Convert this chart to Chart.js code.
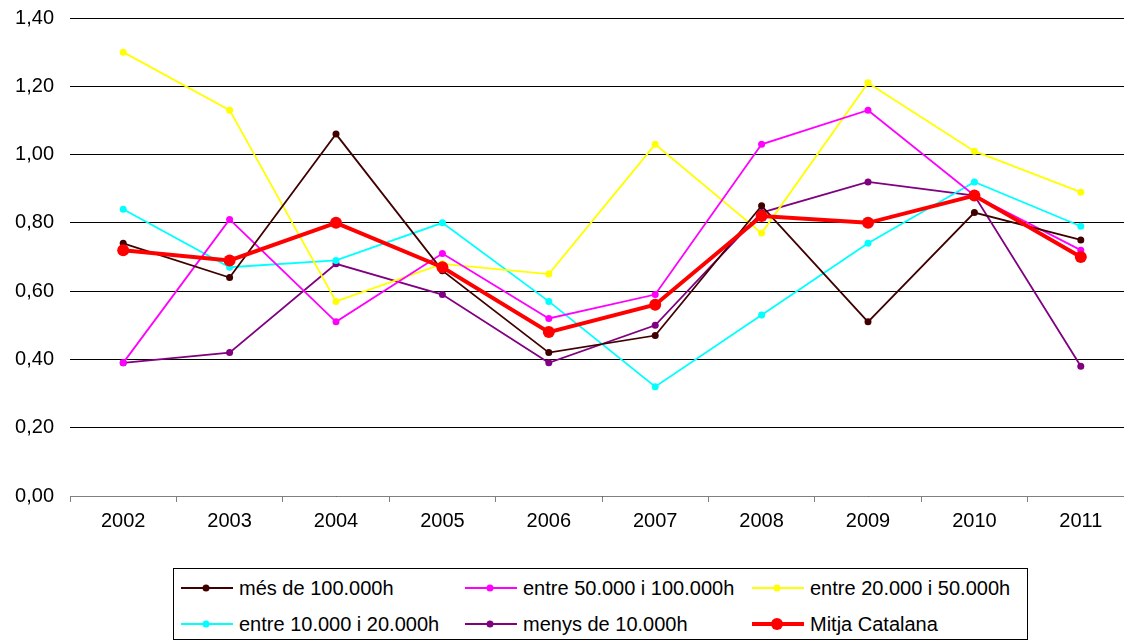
<!DOCTYPE html>
<html>
<head>
<meta charset="utf-8">
<script src="https://cdn.jsdelivr.net/npm/chart.js@4.4.1/dist/chart.umd.min.js"></script>
<style>
  html, body { margin: 0; padding: 0; background: #fff; overflow: hidden; }
  #wrap { position: relative; width: 1124px; height: 641px; overflow: hidden; }
  #c { position: absolute; left: 0; top: 0; }
  #legend { position: absolute; left: 173px; top: 568px; width: 855px; height: 72px;
            border: 1px solid #000; box-sizing: border-box; background: #fff;
            font-family: "Liberation Sans", Arial, sans-serif; font-size: 20px; color: #000; }
  .item { position: absolute; height: 24px; display: flex; align-items: center; white-space: nowrap; }
  .item svg { margin-right: 6px; }
</style>
</head>
<body>
<div id="wrap">
  <canvas id="c" width="1140" height="641"></canvas>
  <div id="legend"></div>
</div>
<script>
const categories = ['2002','2003','2004','2005','2006','2007','2008','2009','2010','2011'];
const yTickLabels = ['0,00','0,20','0,40','0,60','0,80','1,00','1,20','1,40'];

const seriesNames = ['més de 100.000h','entre 50.000 i 100.000h','entre 20.000 i 50.000h',
                     'entre 10.000 i 20.000h','menys de 10.000h','Mitja Catalana'];
const mes100   = [0.74, 0.64, 1.06, 0.66, 0.42, 0.47, 0.85, 0.51, 0.83, 0.75];
const e50_100  = [0.39, 0.81, 0.51, 0.71, 0.52, 0.59, 1.03, 1.13, 0.88, 0.72];
const e20_50   = [1.30, 1.13, 0.57, 0.68, 0.65, 1.03, 0.77, 1.21, 1.01, 0.89];
const e10_20   = [0.84, 0.67, 0.69, 0.80, 0.57, 0.32, 0.53, 0.74, 0.92, 0.79];
const menys10  = [0.39, 0.42, 0.68, 0.59, 0.39, 0.50, 0.83, 0.92, 0.88, 0.38];
const mitja    = [0.72, 0.69, 0.80, 0.67, 0.48, 0.56, 0.82, 0.80, 0.88, 0.70];

const seriesData = [mes100, e50_100, e20_50, e10_20, menys10, mitja];
const colors = ['#400000', '#ff00ff', '#ffff00', '#00ffff', '#800080', '#ff0000'];

const datasets = seriesData.map((d, i) => {
  const main = i === 5;
  return {
    label: seriesNames[i],
    data: d,
    borderColor: colors[i],
    backgroundColor: colors[i],
    pointBackgroundColor: colors[i],
    pointBorderColor: colors[i],
    pointBorderWidth: 0,
    borderWidth: main ? 4 : 1.8,
    pointRadius: main ? 6 : 3.5,
    tension: 0,
    fill: false,
    order: main ? -1 : i
  };
});

const FONT = { family: '"Liberation Sans", Arial, sans-serif', size: 20 };

const chart = new Chart(document.getElementById('c'), {
  type: 'line',
  data: { labels: categories, datasets },
  options: {
    responsive: false,
    animation: false,
    layout: { padding: { top: 18, right: 5, left: 0, bottom: 0 } },
    plugins: { legend: { display: false }, tooltip: { enabled: false } },
    scales: {
      x: {
        offset: true,
        grid: { display: true, drawOnChartArea: false, drawTicks: true, tickLength: 6,
                offset: true, color: '#808080', lineWidth: 1 },
        border: { display: true, color: '#808080', width: 1 },
        ticks: { color: '#000', font: FONT, padding: 7, maxRotation: 0, autoSkip: false },
        afterFit: s => { s.height = 145; s.paddingLeft = 0; s.paddingRight = 0; }
      },
      y: {
        min: 0, max: 1.4,
        grid: { color: '#000', lineWidth: 1, drawTicks: false },
        border: { display: false },
        ticks: {
          stepSize: 0.2, color: '#000', font: FONT, padding: 16,
          callback: (v, idx) => yTickLabels[idx]
        },
        afterFit: s => { s.width = 70; s.paddingTop = 0; s.paddingBottom = 0; }
      }
    }
  }
});

// HTML legend built from the chart datasets
const legend = document.getElementById('legend');
const colX = [7, 291, 578];
const rowY = [7, 43];
chart.data.datasets.forEach((ds, i) => {
  const main = i === 5;
  const div = document.createElement('div');
  div.className = 'item';
  div.style.left = colX[i % 3] + 'px';
  div.style.top = rowY[Math.floor(i / 3)] + 'px';
  const svgNS = 'http://www.w3.org/2000/svg';
  const svg = document.createElementNS(svgNS, 'svg');
  svg.setAttribute('width', '52'); svg.setAttribute('height', '16');
  const ln = document.createElementNS(svgNS, 'line');
  ln.setAttribute('x1', '0'); ln.setAttribute('x2', '52');
  ln.setAttribute('y1', '8'); ln.setAttribute('y2', '8');
  ln.setAttribute('stroke', ds.borderColor);
  ln.setAttribute('stroke-width', main ? '4' : '2');
  const c = document.createElementNS(svgNS, 'circle');
  c.setAttribute('cx', '25'); c.setAttribute('cy', '8');
  c.setAttribute('r', main ? '6' : '3.5');
  c.setAttribute('fill', ds.borderColor);
  svg.appendChild(ln); svg.appendChild(c);
  const span = document.createElement('span');
  span.textContent = ds.label;
  div.appendChild(svg); div.appendChild(span);
  legend.appendChild(div);
});
</script>
</body>
</html>
